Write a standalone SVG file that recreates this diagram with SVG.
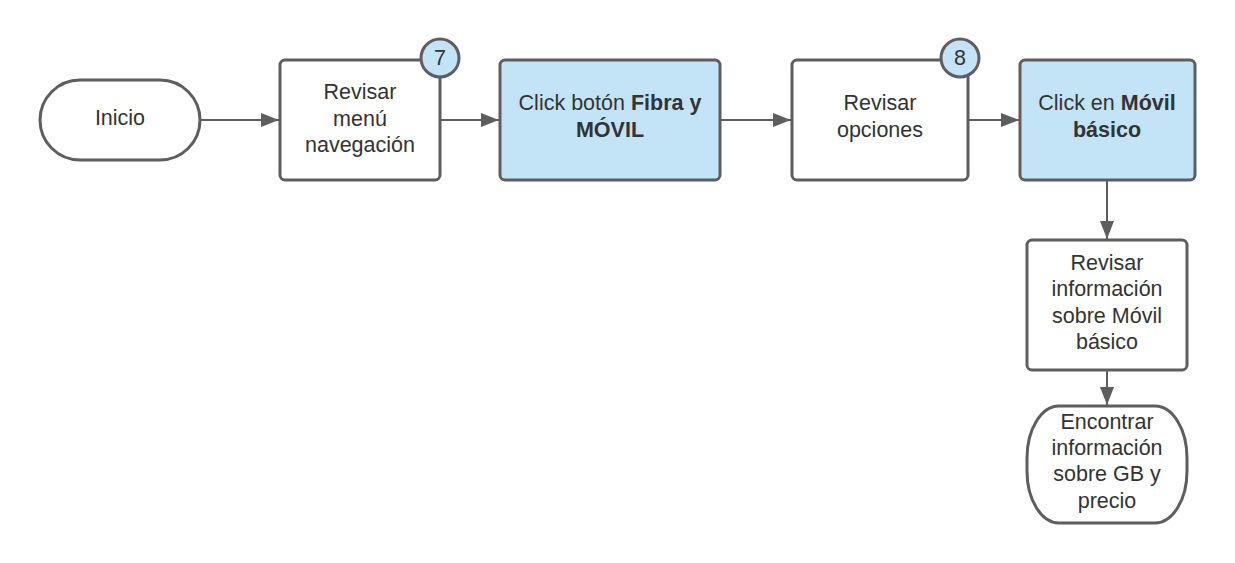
<svg xmlns="http://www.w3.org/2000/svg" width="1235" height="563" viewBox="0 0 1235 563">
<style>
.s{stroke:#5e5e5e;stroke-width:3;fill:#fff}
.b{fill:#c2e4f6}
text{font-family:"Liberation Sans",Arial,sans-serif;font-size:21.5px;fill:#333;text-anchor:middle}
.bd{font-weight:bold}
.c{stroke:#5e5e5e;stroke-width:2;fill:none;marker-end:url(#ah)}
</style>
<defs>
<marker id="ah" markerWidth="20" markerHeight="14" refX="18" refY="7" orient="auto" markerUnits="userSpaceOnUse">
<path d="M0,0 L18,7 L0,14 Z" fill="#5e5e5e"/>
</marker>
</defs>
<rect width="1235" height="563" fill="#fff"/>
<g id="connectors">
<line class="c" x1="201" y1="120" x2="279" y2="120"/>
<line class="c" x1="441" y1="120" x2="499" y2="120"/>
<line class="c" x1="721" y1="120" x2="791" y2="120"/>
<line class="c" x1="969" y1="120" x2="1019" y2="120"/>
<line class="c" x1="1107" y1="181" x2="1107" y2="239"/>
<line class="c" x1="1107" y1="371" x2="1107" y2="405"/>
</g>
<g id="inicio">
<rect class="s" x="40" y="80" width="160" height="80" rx="40"/>
<text x="120" y="125">Inicio</text>
</g>
<g id="revisar-menu">
<rect class="s" x="280" y="60" width="160" height="120" rx="5"/>
<text x="360" y="99">Revisar</text>
<text x="360" y="126">menú</text>
<text x="360" y="152">navegación</text>
</g>
<g id="badge7">
<circle class="s b" cx="440" cy="58" r="19"/>
<text x="440" y="65">7</text>
</g>
<g id="click-fibra">
<rect class="s b" x="500" y="60" width="220" height="120" rx="5"/>
<text x="610" y="110">Click botón <tspan class="bd">Fibra y</tspan></text>
<text x="610" y="137" class="bd">MÓVIL</text>
</g>
<g id="revisar-opciones">
<rect class="s" x="792" y="60" width="176" height="120" rx="5"/>
<text x="880" y="110">Revisar</text>
<text x="880" y="137">opciones</text>
</g>
<g id="badge8">
<circle class="s b" cx="960" cy="58" r="19"/>
<text x="960" y="65">8</text>
</g>
<g id="click-movil">
<rect class="s b" x="1020" y="60" width="175" height="120" rx="5"/>
<text x="1107" y="110">Click en <tspan class="bd">Móvil</tspan></text>
<text x="1107" y="137" class="bd">básico</text>
</g>
<g id="revisar-info">
<rect class="s" x="1027" y="240" width="160" height="130" rx="5"/>
<text x="1107" y="270">Revisar</text>
<text x="1107" y="296">información</text>
<text x="1107" y="323">sobre Móvil</text>
<text x="1107" y="349">básico</text>
</g>
<g id="encontrar">
<rect class="s" x="1027" y="406" width="160" height="117" rx="32" ry="52"/>
<text x="1107" y="429">Encontrar</text>
<text x="1107" y="455">información</text>
<text x="1107" y="481">sobre GB y</text>
<text x="1107" y="508">precio</text>
</g>
</svg>
